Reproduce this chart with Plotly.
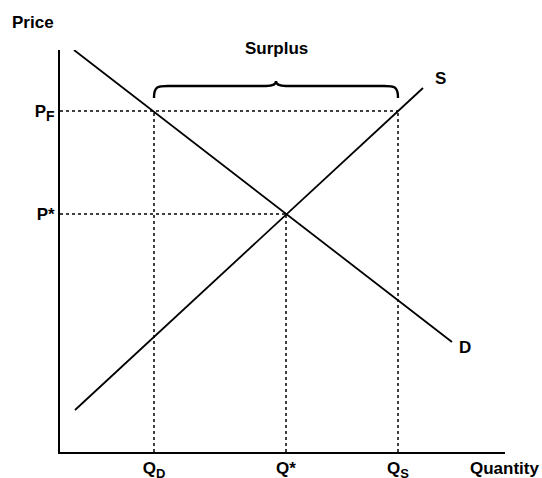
import plotly.graph_objects as go

# Data (units: arbitrary quantity / price)
demand_q = [14, 392]
demand_p = [402, 110]
supply_q = [15, 363]
supply_p = [42, 364]
q_d, q_star, q_s = 94, 226, 338
p_f, p_star = 341, 238
x_tick_labels = ["<b>Q</b><sub><span style='font-size:13px'><b>D</b></span></sub>", "<b>Q*</b>",
                 "<b>Q</b><sub><span style='font-size:13px'><b>S</b></span></sub>"]
y_tick_labels = ["<b>P*</b>", "<b>P</b><sub><span style='font-size:14px'><b>F</b></span></sub>"]

FONT = "Liberation Sans, Arial, sans-serif"
fig = go.Figure()

dot = dict(color="black", width=1.5, dash="dot")
# horizontal dotted lines
fig.add_trace(go.Scatter(x=[0, q_s], y=[p_f, p_f], mode="lines", line=dot, hoverinfo="skip"))
fig.add_trace(go.Scatter(x=[0, q_star], y=[p_star, p_star], mode="lines", line=dot, hoverinfo="skip"))
# vertical dotted lines
for q, p in [(q_d, p_f), (q_star, p_star), (q_s, p_f)]:
    fig.add_trace(go.Scatter(x=[q, q], y=[0, p], mode="lines", line=dot, hoverinfo="skip"))

# demand and supply
fig.add_trace(go.Scatter(x=demand_q, y=demand_p, mode="lines", line=dict(color="black", width=1.8)))
fig.add_trace(go.Scatter(x=supply_q, y=supply_p, mode="lines", line=dict(color="black", width=1.8)))

# brace over surplus
b0 = p_f + 13
h = 12
mid = (q_d + q_s) / 2
path = (f"M {q_d},{b0} C {q_d},{b0+h} {q_d+4},{b0+h} {q_d+14},{b0+h} "
        f"L {mid-10},{b0+h} C {mid-3},{b0+h} {mid},{b0+h+2} {mid},{b0+h+5} "
        f"C {mid},{b0+h+2} {mid+3},{b0+h} {mid+10},{b0+h} "
        f"L {q_s-14},{b0+h} C {q_s-4},{b0+h} {q_s},{b0+h} {q_s},{b0}")
fig.add_shape(type="path", path=path, line=dict(color="black", width=2.4), xref="x", yref="y")

ann_font = dict(family=FONT, size=17, color="black")
fig.add_annotation(x=mid, xref="x", yref="paper", y=1.0, yshift=2, text="<b>Surplus</b>",
                   showarrow=False, yanchor="middle", font=ann_font)
fig.add_annotation(x=supply_q[1] + 17, y=supply_p[1] + 10, text="<b>S</b>", showarrow=False, font=ann_font)
fig.add_annotation(x=demand_q[1] + 13, y=demand_p[1] - 5, text="<b>D</b>", showarrow=False, font=ann_font)
fig.add_annotation(xref="paper", yref="paper", x=-0.1124, y=1.0, yshift=28, text="<b>Price</b>",
                   showarrow=False, xanchor="left", yanchor="middle", font=ann_font)
fig.add_annotation(xref="paper", yref="paper", x=0.917, y=0, yshift=-16, text="<b>Quantity</b>",
                   showarrow=False, xanchor="left", yanchor="middle", font=ann_font)

fig.update_layout(
    width=542, height=478,
    margin=dict(l=60, r=37, t=50, b=26),
    plot_bgcolor="white", paper_bgcolor="white",
    showlegend=False,
    xaxis=dict(range=[0, 445], showgrid=False, zeroline=False, showline=True, linecolor="black", linewidth=2,
               tickvals=[q_d, q_star, q_s], ticktext=x_tick_labels, ticks="", automargin=False,
               tickfont=dict(family=FONT, size=17, color="black")),
    yaxis=dict(range=[0, 402], showgrid=False, zeroline=False, showline=True, linecolor="black", linewidth=2,
               tickvals=[p_star, p_f], ticktext=y_tick_labels, ticks="", automargin=False,
               tickfont=dict(family=FONT, size=17, color="black")),
)
fig.write_html("out.html", config={"displayModeBar": False},
               post_script="document.body.style.margin='0px';document.body.style.overflow='hidden';")
